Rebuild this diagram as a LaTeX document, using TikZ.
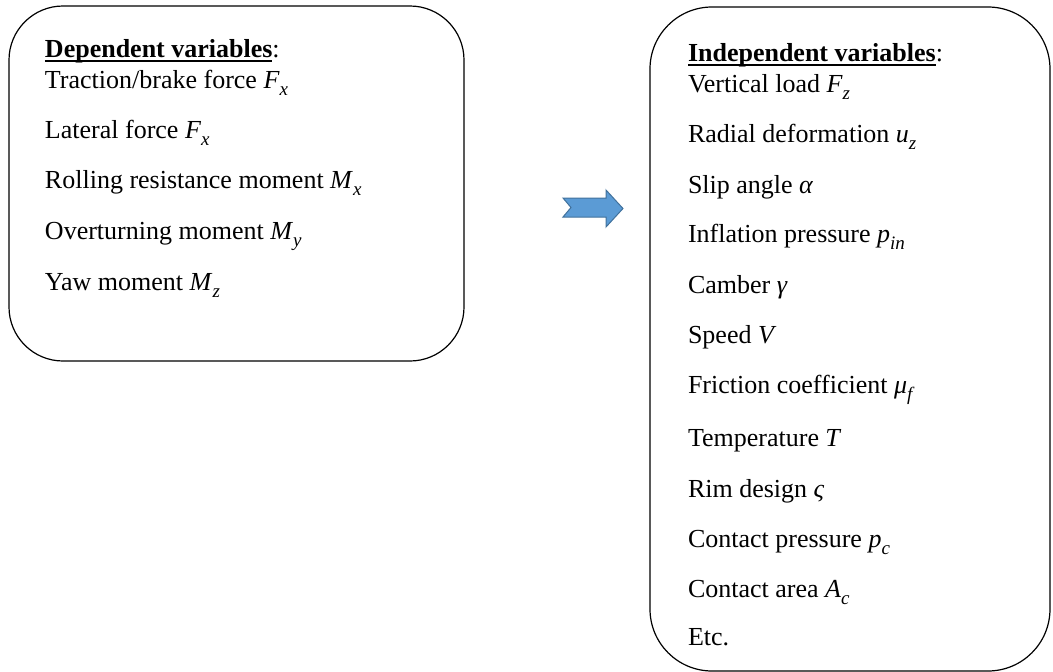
\documentclass[tikz,border=0pt]{standalone}
\usepackage{fontspec}
\setmainfont{Liberation Serif}
\newcommand\vsub[2]{\textit{#1}\raisebox{-0.27em}{\fontsize{19}{19}\selectfont\textit{#2}}}
\newcommand\ulhead[1]{\setbox0\hbox{\textbf{#1}}\rlap{\rule[-4.5pt]{\wd0}{2pt}}\box0}
\begin{document}
\begin{tikzpicture}[x=1pt,y=-1pt]
\tikzset{
  panel/.style={draw=black, line width=1.2pt, fill=none, inner sep=0pt, outer sep=0pt},
  lbl/.style={anchor=base west, inner sep=0pt, outer sep=0pt, font=\fontsize{26}{30}\selectfont},
  bluearrow/.style={fill=arrowfill, draw=arrowline, line width=1pt, line join=miter}
}
\definecolor{arrowfill}{HTML}{5B9BD5}
\definecolor{arrowline}{HTML}{41719C}
\useasboundingbox (0,0) rectangle (1053,672);
% boxes
\node[panel, rounded corners=54pt, minimum width=455pt, minimum height=355pt] (dep) at (236.5,183.5) {};
\node[panel, rounded corners=62pt, minimum width=400pt, minimum height=664pt] (indep) at (850,339) {};
% arrow
\coordinate (a1) at (563,198);
\path[bluearrow] (a1) -- (606,198) -- (606,190) -- (623,208.5) -- (606,227) -- (606,217) -- (563,217) -- (571,207.5) -- cycle;
% left texts
\node[lbl] (d0) at (45,57) {\ulhead{Dependent variables}:};
\node[lbl] (d1) at (45,88) {Traction/brake force \vsub{F}{x}};
\node[lbl] (d2) at (45,138) {Lateral force \vsub{F}{x}};
\node[lbl] (d3) at (45,188) {Rolling resistance moment \vsub{M}{x}};
\node[lbl] (d4) at (45,239) {Overturning moment \vsub{M}{y}};
\node[lbl] (d5) at (45,290) {Yaw moment \vsub{M}{z}};
% right texts
\node[lbl] (i0) at (688,61) {\ulhead{Independent variables}:};
\node[lbl] (i1) at (688,92) {Vertical load \vsub{F}{z}};
\node[lbl] (i2) at (688,142) {Radial deformation \vsub{u}{z}};
\node[lbl] (i3) at (688,193) {Slip angle \textit{α}};
\node[lbl] (i4) at (688,242) {Inflation pressure \vsub{p}{in}};
\node[lbl] (i5) at (688,293) {Camber \textit{γ}};
\node[lbl] (i6) at (688,343) {Speed \textit{V}};
\node[lbl] (i7) at (688,393) {Friction coefficient \vsub{μ}{f}};
\node[lbl] (i8) at (688,446) {Temperature \textit{T}};
\node[lbl] (i9) at (688,497) {Rim design \textit{ς}};
\node[lbl] (i10) at (688,547) {Contact pressure \vsub{p}{c}};
\node[lbl] (i11) at (688,597) {Contact area \vsub{A}{c}};
\node[lbl] (i12) at (688,645) {Etc.};
\end{tikzpicture}
\end{document}
